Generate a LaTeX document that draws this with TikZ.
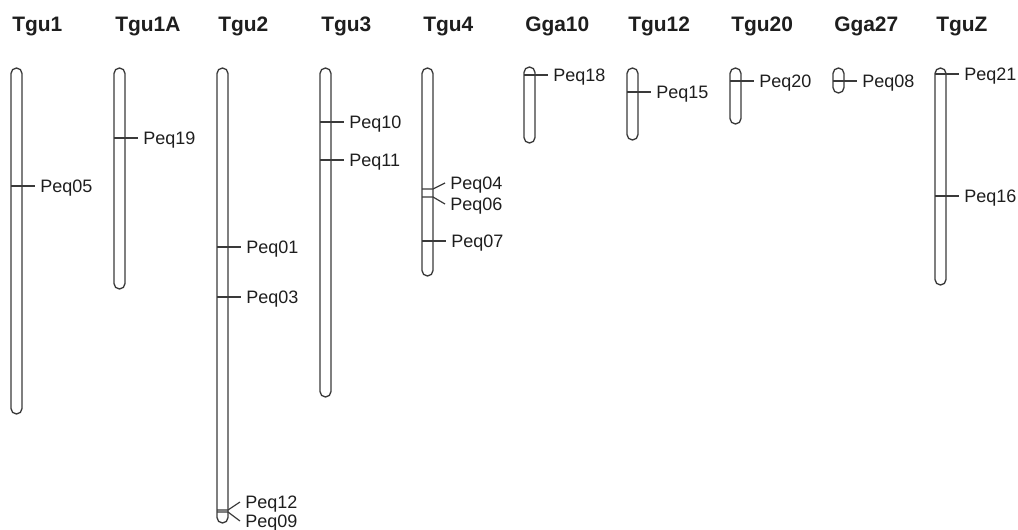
\documentclass[tikz,border=0pt]{standalone}
\usepackage{fontspec}
\setmainfont{Liberation Sans}
\usepackage{tikz}
\usetikzlibrary{positioning}
\definecolor{CHRline}{HTML}{3A3A3A}
\definecolor{CHRtext}{HTML}{1E1E1E}

\begin{document}
\begin{tikzpicture}[x=0.75pt, y=-0.75pt]

    \tikzset{%
        chrom/.style={draw=CHRline, line width=1pt, rounded corners=4.1pt,
                minimum width=8.25pt, inner sep=0pt, outer sep=0pt},
        chromname/.style={anchor=base west, inner sep=0pt, text=CHRtext,
                font=\fontsize{15.7}{18}\selectfont\bfseries},
        peq/.style={anchor=west, inner xsep=3.8pt, inner ysep=0pt, text depth=0pt,
                text=CHRtext, font=\fontsize{13.5}{16}\selectfont},
        tick/.style={draw=CHRline, line width=0.9pt},
    }

    \useasboundingbox (0, 0) rectangle (1018, 529);

    \foreach \name/\lab/\xl/\ya/\yb in {%
            tgu1/Tgu1/11/68/414, tgu1a/Tgu1A/114/68/289, tgu2/Tgu2/217/68/523,
            tgu3/Tgu3/320/68/397, tgu4/Tgu4/422/68/276, gga10/Gga10/524/67/143,
            tgu12/Tgu12/627/68/140, tgu20/Tgu20/730/68/124, gga27/Gga27/833/68/93,
            tguz/TguZ/935/68/285} {%
            \node [chrom, minimum height=(\yb-\ya)*0.75pt] (\name) at ({\xl+5.5}, {(\ya+\yb)/2}) {};
            \node [chromname] (\name-title) at ({\xl+1}, 31) {\lab};
        }

    \foreach \name/\y/\lab in {%
            tgu1/186/Peq05, tgu1a/138/Peq19, tgu2/247/Peq01, tgu2/297/Peq03,
            tgu3/122/Peq10, tgu3/160/Peq11, tgu4/241/Peq07, gga10/75/Peq18,
            tgu12/92/Peq15, tgu20/81/Peq20, gga27/81/Peq08, tguz/74/Peq21,
            tguz/196/Peq16} {%
            \node [peq, xshift=9.75pt] (\lab) at (\name.east |- 0, \y) {\lab};
            \draw [tick] (\name.west |- \lab.west) -- (\lab.west);
        }

    % close pairs, drawn with bent ticks
    \node [peq] (Peq04) at (445, 183) {Peq04};
    \node [peq] (Peq06) at (445, 204) {Peq06};
    \draw [tick] (tgu4.west |- 0, 189) -- (tgu4.east |- 0, 189) -- (Peq04.west);
    \draw [tick] (tgu4.west |- 0, 197) -- (tgu4.east |- 0, 197) -- (Peq06.west);

    \node [peq] (Peq12) at (240, 502) {Peq12};
    \node [peq] (Peq09) at (240, 521) {Peq09};
    \draw [tick] (tgu2.west |- 0, 510) -- (tgu2.east |- 0, 510) -- (Peq12.west);
    \draw [tick] (tgu2.west |- 0, 512) -- (tgu2.east |- 0, 512) -- (Peq09.west);

\end{tikzpicture}
\end{document}
